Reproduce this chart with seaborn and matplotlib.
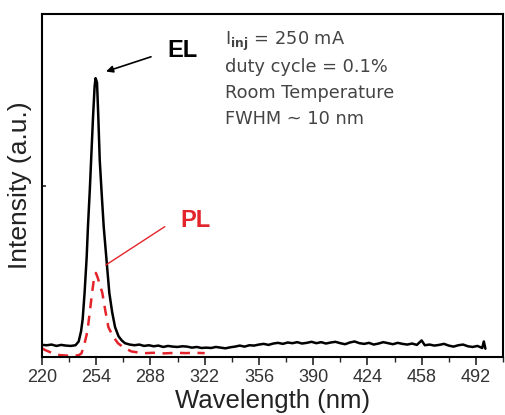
import numpy as np
import pandas as pd
import matplotlib
matplotlib.use("Agg")
import matplotlib.pyplot as plt
import seaborn as sns

# ---- data ----
el_wavelength = [220, 223, 226, 229, 232, 235, 238, 241, 243, 244.5, 245.5, 246.7, 248, 248.8,
                 250, 250.8, 252, 253, 253.6, 254.5, 255.3, 256.2, 257.5, 258.7, 260.5, 262.2,
                 264, 265.8, 268, 270, 272, 275, 278, 281, 284, 287, 290, 293, 296, 299, 302,
                 305, 308, 311, 314, 317, 320, 323, 326, 329, 332, 335, 338, 341, 344, 347,
                 350, 353, 356, 359, 362, 365, 368, 371, 374, 377, 380, 383, 386, 389, 392,
                 395, 398, 401, 404, 407, 410, 413, 416, 419, 422, 425, 428, 431, 434, 437,
                 440, 443, 446, 449, 452, 455, 458, 460, 463, 466, 469, 472, 475, 478, 481,
                 484, 487, 490, 493, 496, 497, 498]
el_intensity = [0.035, 0.034, 0.036, 0.032, 0.035, 0.033, 0.032, 0.034, 0.045, 0.075, 0.11, 0.187,
                0.29, 0.379, 0.49, 0.574, 0.70, 0.79, 0.813, 0.80, 0.70, 0.574, 0.47, 0.379,
                0.28, 0.187, 0.13, 0.087, 0.06, 0.048, 0.040, 0.036, 0.034, 0.036, 0.032, 0.034,
                0.031, 0.033, 0.029, 0.032, 0.030, 0.029, 0.031, 0.030, 0.027, 0.029, 0.026,
                0.027, 0.026, 0.029, 0.027, 0.025, 0.028, 0.030, 0.033, 0.030, 0.034, 0.033,
                0.036, 0.038, 0.035, 0.039, 0.041, 0.038, 0.042, 0.040, 0.043, 0.039, 0.041,
                0.044, 0.040, 0.043, 0.039, 0.042, 0.044, 0.040, 0.037, 0.042, 0.045, 0.040,
                0.038, 0.041, 0.036, 0.039, 0.043, 0.040, 0.037, 0.041, 0.038, 0.036, 0.039,
                0.035, 0.048, 0.034, 0.036, 0.033, 0.035, 0.038, 0.033, 0.030, 0.034, 0.036,
                0.031, 0.029, 0.032, 0.026, 0.045, 0.024]

pl_wavelength = [220, 222, 224, 226, 228, 230, 232, 235, 238, 241, 243, 244.7, 245.8, 246.7, 248,
                 248.8, 250.2, 251.4, 252.5, 253.8, 255, 256.3, 257.8, 259.7, 261.6, 264.5,
                 267.6, 271, 276, 280, 285, 290, 295, 300, 305, 310, 315, 322]
pl_intensity = [0.025, 0.020, 0.016, 0.012, 0.008, 0.006, 0.005, 0.004, 0.003, 0.004, 0.005, 0.010,
                0.025, 0.040, 0.065, 0.087, 0.14, 0.187, 0.225, 0.245, 0.23, 0.21, 0.187, 0.135,
                0.087, 0.06, 0.04, 0.028, 0.016, 0.013, 0.011, 0.012, 0.010, 0.011, 0.012, 0.011,
                0.012, 0.011]

x_ticks = [220, 254, 288, 322, 356, 390, 424, 458, 492]

el_df = pd.DataFrame({"Wavelength": el_wavelength, "Intensity": el_intensity})
pl_df = pd.DataFrame({"Wavelength": pl_wavelength, "Intensity": pl_intensity})

sns.set_style("ticks")
plt.rcParams["font.family"] = ["Liberation Sans", "DejaVu Sans"]
plt.rcParams["mathtext.fontset"] = "custom"
plt.rcParams["mathtext.rm"] = "DejaVu Sans"
plt.rcParams["mathtext.bf"] = "DejaVu Sans:bold"

fig = plt.figure(figsize=(5.06, 4.15), dpi=100)
ax = fig.add_axes([0.083, 0.140, 0.911, 0.826])

sns.lineplot(data=el_df, x="Wavelength", y="Intensity", ax=ax, color="black", linewidth=1.8,
             estimator=None, sort=False)
sns.lineplot(data=pl_df, x="Wavelength", y="Intensity", ax=ax, color="#e3242b", linewidth=1.8,
             estimator=None, sort=False, dashes=False)
ax.lines[-1].set_linestyle((0, (4, 3)))

ax.set_xlim(220, 498)
ax.set_ylim(0, 1)
ax.set_xticks(x_ticks)
ax.set_xticks([t + 17 for t in x_ticks], minor=True)
ax.set_yticks([0.5])
ax.set_yticklabels([])
ax.tick_params(axis="x", which="major", direction="out", length=6, width=1.2,
               labelsize=13, labelcolor="#333333", pad=3)
ax.tick_params(axis="x", which="minor", direction="out", length=3.5, width=1.0)
ax.tick_params(axis="y", which="major", direction="in", length=3, width=1.2)
for s in ax.spines.values():
    s.set_visible(True)
    s.set_linewidth(1.5)
    s.set_color("black")

ax.set_xlabel("Wavelength (nm)", fontsize=18.5, color="#222222", labelpad=2)
ax.set_ylabel("Intensity (a.u.)", fontsize=19, color="#222222", labelpad=4)

# annotations
ax.annotate("", xy=(258.5, 0.830), xytext=(290, 0.878),
            arrowprops=dict(arrowstyle="-|>", color="black", lw=1.2, mutation_scale=10))
ax.text(308, 0.895, "EL", fontsize=17, fontweight="bold", color="black", ha="center", va="center")

ax.plot([297, 260], [0.380, 0.268], color="#e3242b", lw=1.0)
ax.text(316, 0.397, "PL", fontsize=17, fontweight="bold", color="#e3242b", ha="center", va="center")

txt_x = 334.5
lines = [r"I$_{\mathbf{inj}}$ = 250 mA", "duty cycle = 0.1%", "Room Temperature", "FWHM ~ 10 nm"]
ys = [0.920, 0.845, 0.770, 0.694]
for s, yy in zip(lines, ys):
    ax.text(txt_x, yy, s, fontsize=12.8, color="#444444", ha="left", va="center",
            family=["DejaVu Sans"])

fig.savefig("out.png", dpi=100)
